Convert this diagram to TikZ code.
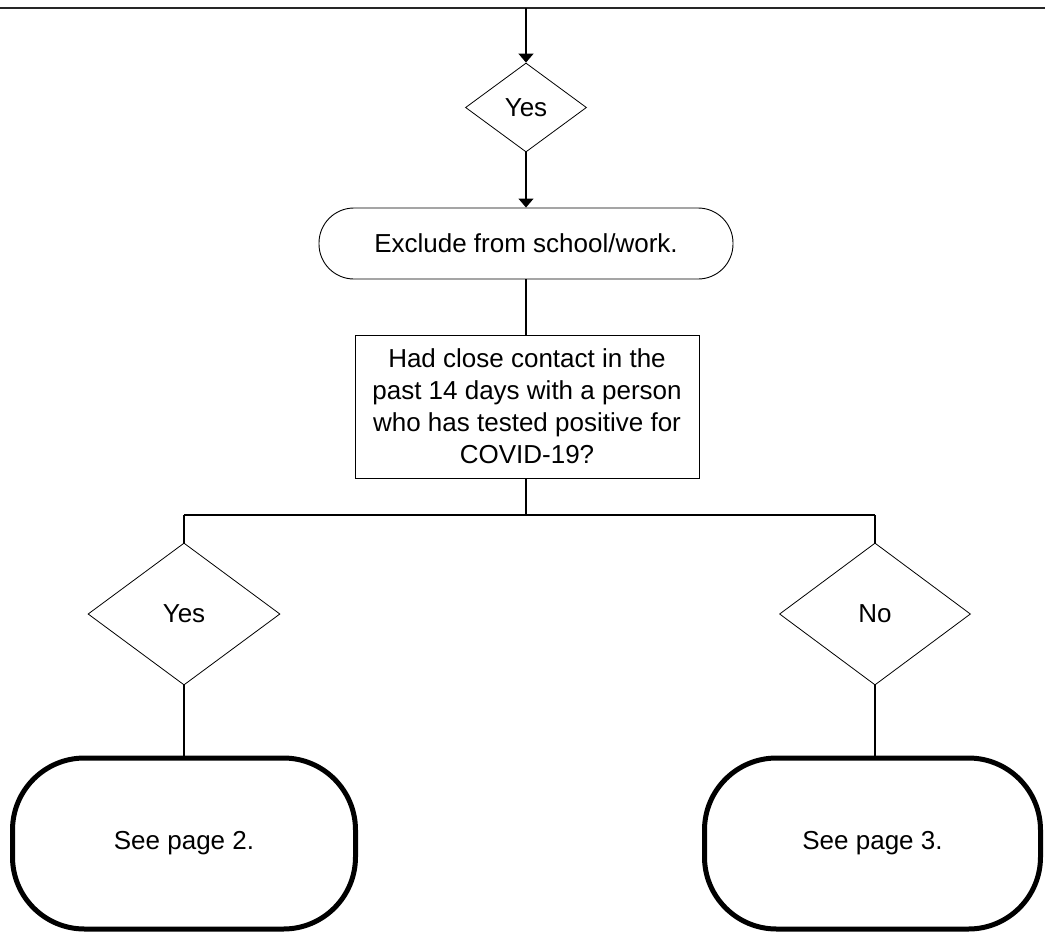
\documentclass[tikz,border=0pt]{standalone}
\usepackage{fontspec}
\setmainfont{Liberation Sans}
\usetikzlibrary{shapes.geometric,arrows.meta}
\begin{document}
\begin{tikzpicture}[x=1pt,y=-1pt,
  every node/.style={font=\fontsize{26}{32}\selectfont},
  dec/.style={diamond, draw, line width=0.8pt, inner sep=0pt},
  conn/.style={line width=1.3pt},
  arr/.style={conn, -{Triangle[width=15pt,length=9pt]}},
  roundbox/.style={draw, line width=0.9pt, rounded corners=35pt, inner sep=0pt, minimum width=414pt, minimum height=71pt},
  qbox/.style={draw, line width=0.9pt, inner sep=0pt, minimum width=344pt, minimum height=143pt, align=center},
  term/.style={draw, line width=5pt, rounded corners=72pt, inner sep=0pt, minimum height=171pt}
]
\useasboundingbox (0,0) rectangle (1045,940);
\coordinate (topL) at (0,8);
\coordinate (topR) at (1045,8);
\coordinate (topC) at (526,8);
\draw[line width=1.5pt, black!85] (topL) -- (topR);

\node[dec, minimum width=121pt, minimum height=89pt] (d1) at (526,107.5) {Yes};
\node[roundbox] (box) at (526,243.5) {Exclude from school/work.};
\node[qbox] (q) at (527,406.5) {Had close contact in the\\past 14 days with a person\\who has tested positive for\\COVID-19?};

\coordinate (jL) at (184,515);
\coordinate (jR) at (875,515);

\node[dec, minimum width=192pt, minimum height=142pt] (dL) at (184,614) {Yes};
\node[dec, minimum width=191pt, minimum height=142pt] (dR) at (875,614) {No};

\node[term, minimum width=343pt] (tL) at (184,843.5) {See page 2.};
\node[term, minimum width=336pt] (tR) at (872.5,843.5) {See page 3.};

\draw[arr] (topC) -- (d1.north);
\draw[arr] (d1.south) -- (box.north);
\draw[conn] (box.south) -- (box.south |- q.north);
\draw[conn] (q.south -| box.south) -- (box.south |- jL);
\draw[conn] (jL) -- (jR);
\draw[conn] (jL) -- (dL.north);
\draw[conn] (jR) -- (dR.north);
\draw[conn] (dL.south) -- (dL.south |- tL.north);
\draw[conn] (dR.south) -- (dR.south |- tR.north);
\end{tikzpicture}
\end{document}
